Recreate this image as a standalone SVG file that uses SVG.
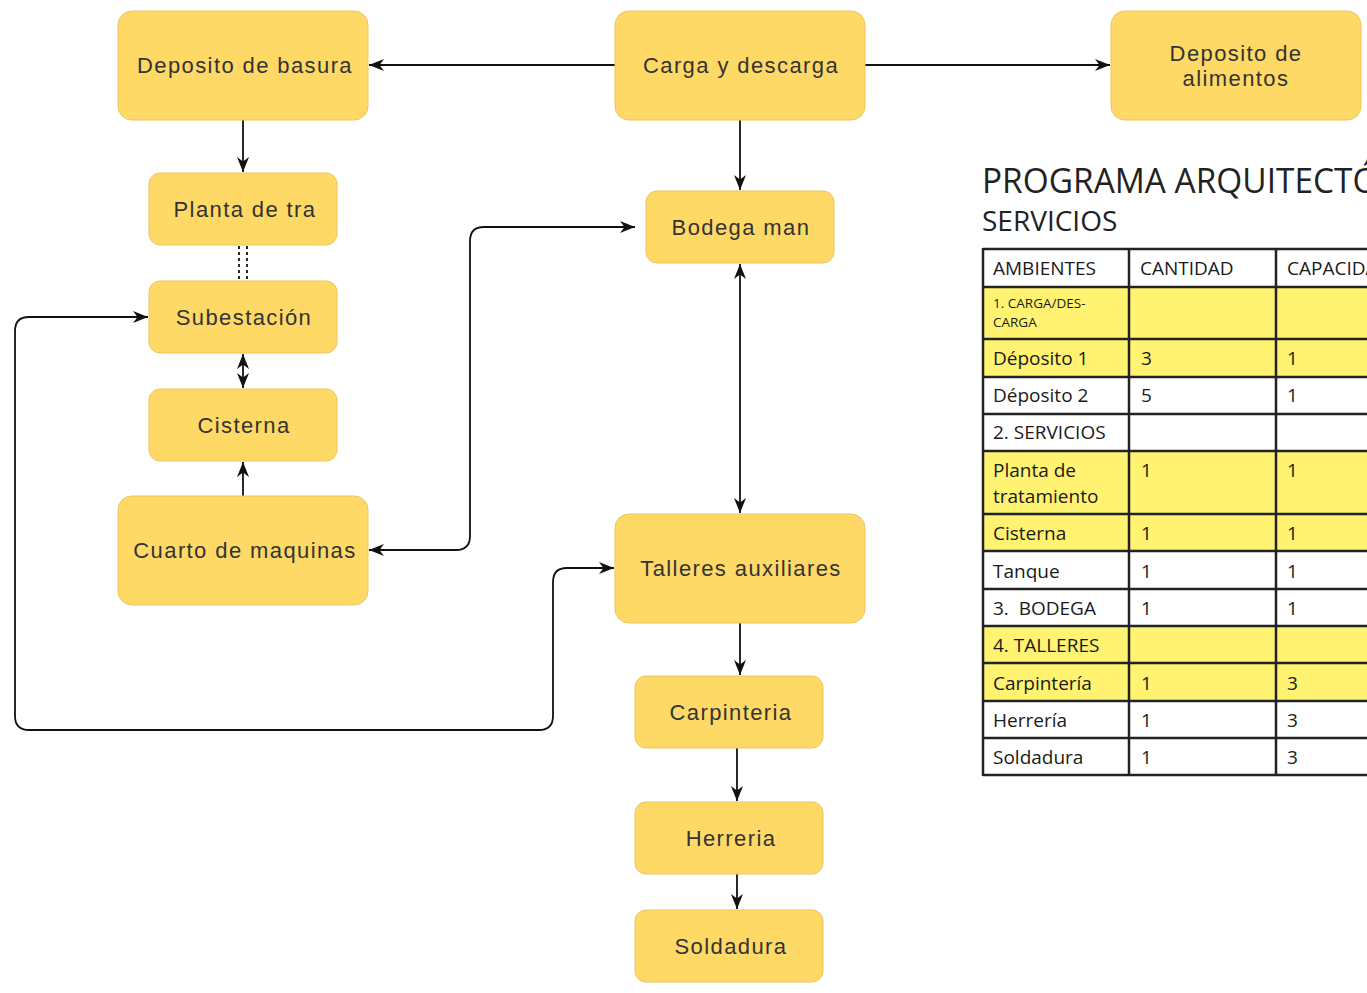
<svg xmlns="http://www.w3.org/2000/svg" width="1367" height="993" viewBox="0 0 1367 993">
<defs>
<marker id="arr" markerUnits="userSpaceOnUse" markerWidth="16" markerHeight="16" viewBox="0 0 16 16" refX="15" refY="8" orient="auto-start-reverse">
<path d="M0,2 L15,8 L0,14 L4.5,8 z" fill="#111"/>
</marker>
<style>
.node rect{fill:#FFD966;stroke:#E8C560;stroke-width:1}
.node text{font-family:"Liberation Sans",Arial,sans-serif;font-size:22px;fill:#333;text-anchor:middle;letter-spacing:1.4px}
.conn path{fill:none;stroke:#111;stroke-width:1.8}
.arrow{marker-end:url(#arr)}
.both{marker-start:url(#arr);marker-end:url(#arr)}
.dash{stroke-dasharray:3 3}
.tbl text{font-family:"Open Sans","Noto Sans",sans-serif;font-size:19px;fill:#1a1a1a}
.tbl .small{font-size:13.5px}
.grid line{stroke:#222;stroke-width:2.5}
.hl{fill:#FFF371}
.title{font-family:"Open Sans","Noto Sans",sans-serif;fill:#222}
</style>
</defs>
<rect width="1367" height="993" fill="#fff"/>

<g id="connectors" class="conn">
<path class="arrow" d="M615,65 L369,65"/>
<path class="arrow" d="M865,65 L1110,65"/>
<path class="arrow" d="M243,120 L243,172"/>
<path class="dash" d="M239,246 L239,281"/>
<path class="dash" d="M247,246 L247,281"/>
<path class="both" d="M243,354 L243,388"/>
<path class="arrow" d="M243,496 L243,462"/>
<path class="arrow" d="M740,120 L740,190"/>
<path class="both" d="M740,264 L740,513"/>
<path class="both" d="M369,550 L456,550 Q470,550 470,536 L470,241 Q470,227 484,227 L635,227"/>
<path class="both" d="M148,317 L29,317 Q15,317 15,331 L15,716 Q15,730 29,730 L539,730 Q553,730 553,716 L553,582 Q553,568 567,568 L614,568"/>
<path class="arrow" d="M740,623 L740,675"/>
<path class="arrow" d="M737,748 L737,801"/>
<path class="arrow" d="M737,858 L737,909"/>
</g>

<g id="n-basura" class="node"><rect x="118" y="11" width="250" height="109" rx="14"/><text x="245" y="73">Deposito de basura</text></g>
<g id="n-carga" class="node"><rect x="615" y="11" width="250" height="109" rx="14"/><text x="741" y="73">Carga y descarga</text></g>
<g id="n-alimentos" class="node"><rect x="1111" y="11" width="250" height="109" rx="14"/><text x="1236" y="61">Deposito de</text><text x="1236" y="86">alimentos</text></g>
<g id="n-planta" class="node"><rect x="149" y="173" width="188" height="72" rx="11"/><text x="245" y="217">Planta de tra</text></g>
<g id="n-subestacion" class="node"><rect x="149" y="281" width="188" height="72" rx="11"/><text x="244" y="325">Subestación</text></g>
<g id="n-cisterna" class="node"><rect x="149" y="389" width="188" height="72" rx="11"/><text x="244" y="433">Cisterna</text></g>
<g id="n-cuarto" class="node"><rect x="118" y="496" width="250" height="109" rx="14"/><text x="245" y="558">Cuarto de maquinas</text></g>
<g id="n-bodega" class="node"><rect x="646" y="191" width="188" height="72" rx="11"/><text x="741" y="235">Bodega man</text></g>
<g id="n-talleres" class="node"><rect x="615" y="514" width="250" height="109" rx="14"/><text x="741" y="576">Talleres auxiliares</text></g>
<g id="n-carpinteria" class="node"><rect x="635" y="676" width="188" height="72" rx="11"/><text x="731" y="720">Carpinteria</text></g>
<g id="n-herreria" class="node"><rect x="635" y="802" width="188" height="72" rx="11"/><text x="731" y="846">Herreria</text></g>
<g id="n-soldadura" class="node"><rect x="635" y="910" width="188" height="72" rx="11"/><text x="731" y="954">Soldadura</text></g>

<g id="programa">
<text class="title" x="982" y="193" font-size="34" textLength="478" lengthAdjust="spacingAndGlyphs">PROGRAMA ARQUITECTÓNICO</text>
<text class="title" x="982" y="231" font-size="28">SERVICIOS</text>
<g class="tbl">
<rect class="hl" x="983" y="287" width="384" height="90"/>
<rect class="hl" x="983" y="451" width="384" height="100"/>
<rect class="hl" x="983" y="626" width="384" height="75"/>
<g class="grid">
<line x1="983" y1="249" x2="1367" y2="249"/>
<line x1="983" y1="287" x2="1367" y2="287"/>
<line x1="983" y1="339" x2="1367" y2="339"/>
<line x1="983" y1="377" x2="1367" y2="377"/>
<line x1="983" y1="414" x2="1367" y2="414"/>
<line x1="983" y1="451" x2="1367" y2="451"/>
<line x1="983" y1="514" x2="1367" y2="514"/>
<line x1="983" y1="551" x2="1367" y2="551"/>
<line x1="983" y1="589" x2="1367" y2="589"/>
<line x1="983" y1="626" x2="1367" y2="626"/>
<line x1="983" y1="663" x2="1367" y2="663"/>
<line x1="983" y1="701" x2="1367" y2="701"/>
<line x1="983" y1="738" x2="1367" y2="738"/>
<line x1="983" y1="775" x2="1367" y2="775"/>
<line x1="983" y1="248" x2="983" y2="776"/>
<line x1="1129" y1="248" x2="1129" y2="776"/>
<line x1="1276" y1="248" x2="1276" y2="776"/>
</g>
<text x="993" y="275">AMBIENTES</text><text x="1140" y="275">CANTIDAD</text><text x="1287" y="275">CAPACIDAD</text>
<text class="small" x="993" y="308">1. CARGA/DES-</text><text class="small" x="993" y="327">CARGA</text>
<text x="993" y="365">Déposito 1</text><text x="1141" y="365">3</text><text x="1287" y="365">1</text>
<text x="993" y="402">Déposito 2</text><text x="1141" y="402">5</text><text x="1287" y="402">1</text>
<text x="993" y="439">2. SERVICIOS</text>
<text x="993" y="477">Planta de</text><text x="993" y="503">tratamiento</text><text x="1141" y="477">1</text><text x="1287" y="477">1</text>
<text x="993" y="540">Cisterna</text><text x="1141" y="540">1</text><text x="1287" y="540">1</text>
<text x="993" y="578">Tanque</text><text x="1141" y="578">1</text><text x="1287" y="578">1</text>
<text x="993" y="615">3.&#160; BODEGA</text><text x="1141" y="615">1</text><text x="1287" y="615">1</text>
<text x="993" y="652">4. TALLERES</text>
<text x="993" y="690">Carpintería</text><text x="1141" y="690">1</text><text x="1287" y="690">3</text>
<text x="993" y="727">Herrería</text><text x="1141" y="727">1</text><text x="1287" y="727">3</text>
<text x="993" y="764">Soldadura</text><text x="1141" y="764">1</text><text x="1287" y="764">3</text>
</g>
</g>
</svg>
